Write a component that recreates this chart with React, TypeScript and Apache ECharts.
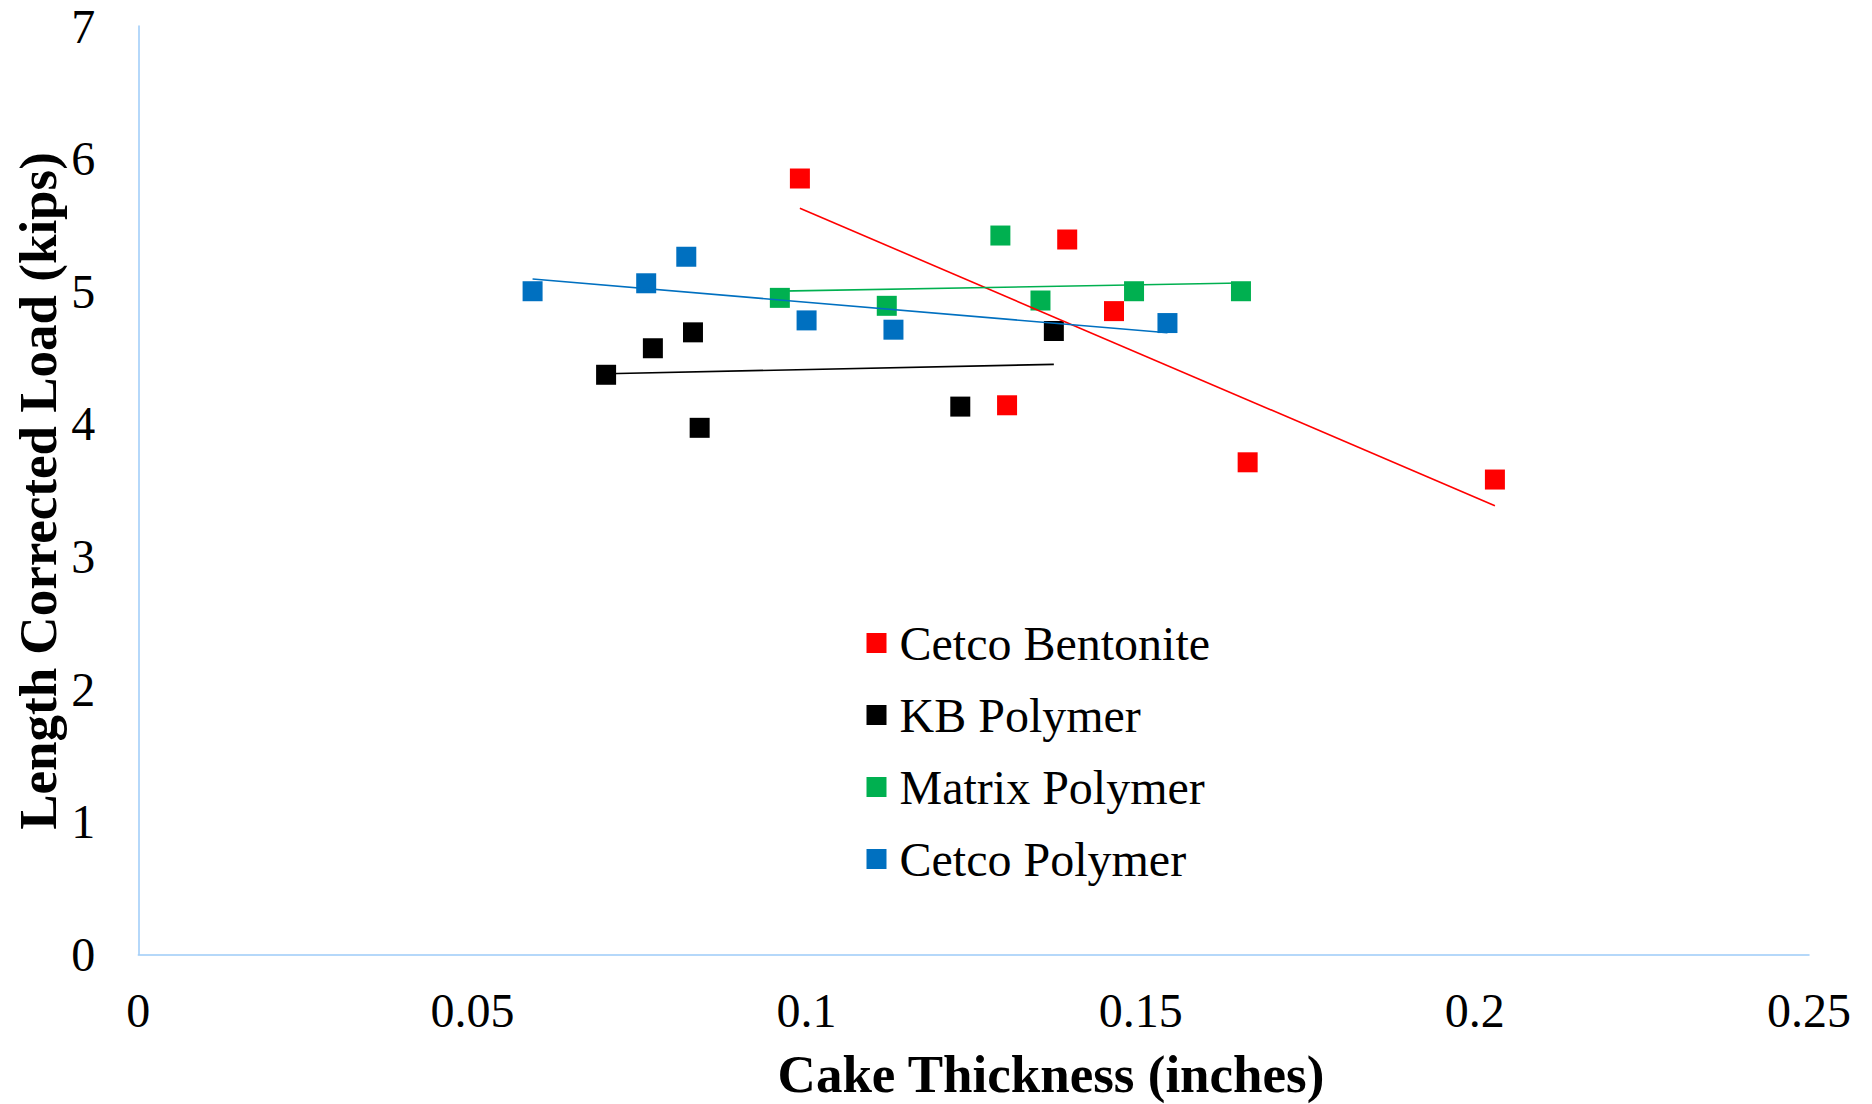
import React, { useEffect, useRef } from "react";
import * as echarts from "echarts";

// Cake thickness (inches) and length-corrected load (kips) for each slurry
const seriesNames = ["Cetco Bentonite", "KB Polymer", "Matrix Polymer", "Cetco Polymer"];
const seriesColors = ["#FF0000", "#000000", "#00B050", "#0070C0"];

const bentoniteX = [0.099, 0.139, 0.146, 0.13, 0.166, 0.203];
const bentoniteY = [5.85, 5.39, 4.85, 4.14, 3.71, 3.58];

const kbX = [0.07, 0.077, 0.083, 0.084, 0.123, 0.137];
const kbY = [4.37, 4.57, 4.69, 3.97, 4.13, 4.7];

const matrixX = [0.096, 0.112, 0.129, 0.135, 0.149, 0.165];
const matrixY = [4.95, 4.89, 5.42, 4.93, 5.0, 5.0];

const cetcoPolyX = [0.059, 0.076, 0.082, 0.1, 0.113, 0.154];
const cetcoPolyY = [5.0, 5.06, 5.26, 4.78, 4.71, 4.76];

const xTickStep = 0.05;
const xMax = 0.25;
const yTickStep = 1;
const yMax = 7;

const xTitle = "Cake Thickness (inches)";
const yTitle = "Length Corrected Load (kips)";

const FONT = '"Liberation Serif", "Times New Roman", serif';

// Least-squares linear trendline spanning the data's x range
function trendline(xs: number[], ys: number[]): number[][] {
  const n = xs.length;
  const mx = xs.reduce((a, b) => a + b, 0) / n;
  const my = ys.reduce((a, b) => a + b, 0) / n;
  let sxy = 0;
  let sxx = 0;
  for (let i = 0; i < n; i++) {
    sxy += (xs[i] - mx) * (ys[i] - my);
    sxx += (xs[i] - mx) * (xs[i] - mx);
  }
  const slope = sxy / sxx;
  const icpt = my - slope * mx;
  const x0 = Math.min(...xs);
  const x1 = Math.max(...xs);
  return [
    [x0, icpt + slope * x0],
    [x1, icpt + slope * x1],
  ];
}

function pairs(xs: number[], ys: number[]): number[][] {
  return xs.map((x, i) => [x, ys[i]]);
}

export default function App() {
  const ref = useRef<HTMLDivElement>(null);

  useEffect(() => {
    document.body.style.margin = "0";
    if (!ref.current) return;
    const chart = echarts.init(ref.current, null, { renderer: "svg" });

    const groups = [
      [bentoniteX, bentoniteY],
      [kbX, kbY],
      [matrixX, matrixY],
      [cetcoPolyX, cetcoPolyY],
    ];

    const scatterSeries = groups.map(([xs, ys], i) => ({
      name: seriesNames[i],
      type: "scatter",
      symbol: "rect",
      symbolSize: 20,
      itemStyle: { color: seriesColors[i], opacity: 1 },
      data: pairs(xs, ys),
      z: 2,
    }));

    const trendSeries = groups.map(([xs, ys], i) => ({
      name: seriesNames[i] + " trend",
      type: "line",
      showSymbol: false,
      symbol: "none",
      lineStyle: { color: seriesColors[i], width: 1.6 },
      data: trendline(xs, ys),
      z: 3,
    }));

    chart.setOption({
      animation: false,
      backgroundColor: "#ffffff",
      textStyle: { fontFamily: FONT },
      grid: { left: 138.3, right: 63, top: 26, bottom: 149.7, containLabel: false },
      xAxis: {
        type: "value",
        min: 0,
        max: xMax,
        interval: xTickStep,
        axisLine: { show: true, onZero: false, lineStyle: { color: "#9DCBF8", width: 1.5 } },
        axisTick: { show: false },
        splitLine: { show: false },
        axisLabel: {
          margin: 32,
          fontSize: 48,
          color: "#000",
          fontFamily: FONT,
          formatter: (v: number) => String(Number(v.toFixed(2))),
        },
      },
      yAxis: {
        type: "value",
        min: 0,
        max: yMax,
        interval: yTickStep,
        axisLine: { show: true, onZero: false, lineStyle: { color: "#9DCBF8", width: 1.5 } },
        axisTick: { show: false },
        splitLine: { show: false },
        axisLabel: {
          margin: 43,
          fontSize: 48,
          color: "#000",
          fontFamily: FONT,
        },
      },
      legend: {
        data: seriesNames,
        orient: "vertical",
        left: 866.5,
        top: 619,
        padding: 0,
        icon: "rect",
        itemWidth: 20,
        itemHeight: 20,
        itemGap: 24,
        itemStyle: { opacity: 1 },
        textStyle: {
          fontSize: 48,
          lineHeight: 48,
          color: "#000",
          fontFamily: FONT,
          padding: [0, 0, 0, 8],
        },
      },
      graphic: [
        {
          type: "text",
          x: 1051,
          y: 1074,
          style: {
            text: xTitle,
            font: `bold 53px ${FONT}`,
            fill: "#000",
            align: "center",
            verticalAlign: "middle",
          },
        },
        {
          type: "text",
          x: 38,
          y: 491,
          rotation: Math.PI / 2,
          style: {
            text: yTitle,
            font: `bold 53px ${FONT}`,
            fill: "#000",
            align: "center",
            verticalAlign: "middle",
          },
        },
      ],
      series: [...scatterSeries, ...trendSeries],
    });

    return () => chart.dispose();
  }, []);

  return <div ref={ref} style={{ width: 1872, height: 1104 }} />;
}
